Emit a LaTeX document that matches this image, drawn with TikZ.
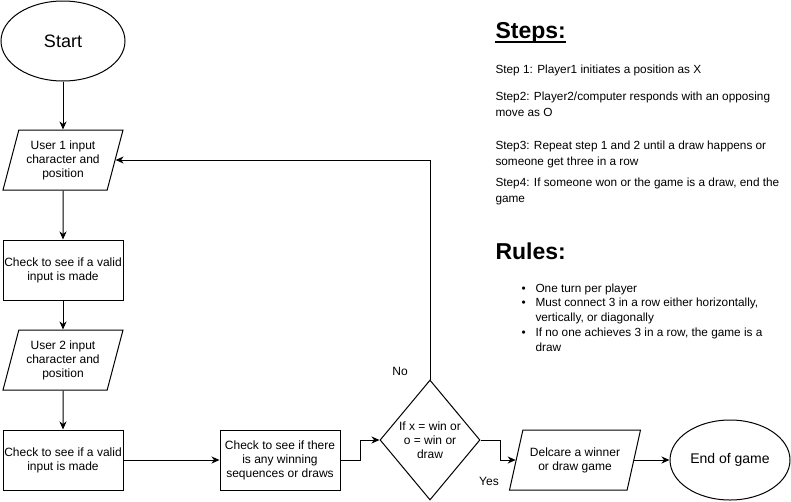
\documentclass[tikz,border=0pt]{standalone}
\usepackage{fontspec}
\setmainfont{Liberation Sans}
\usetikzlibrary{shapes.geometric, positioning, arrows.meta}

\tikzset{
  oval/.style={draw, ellipse, inner sep=0pt},
  iobox/.style={draw, trapezium, trapezium left angle=68, trapezium right angle=112,
    trapezium stretches body, minimum width=120, minimum height=60, inner sep=0pt, align=center},
  procbox/.style={draw, rectangle, minimum width=120, minimum height=60, inner sep=0pt, align=center},
  choice/.style={draw, diamond, minimum width=100, minimum height=120, inner sep=0pt, align=center},
  notes/.style={anchor=base west, inner sep=0pt, align=left, font=\fontsize{11.8}{15.5}\selectfont},
  heading/.style={anchor=base west, inner sep=0pt, font=\bfseries\fontsize{23}{26}\selectfont}
}

\begin{document}
\begin{tikzpicture}[x=1pt, y=-1pt, >={Stealth[length=8pt, width=7pt, inset=2.5pt]}, line width=1pt, font=\fontsize{12}{14}\selectfont]
\useasboundingbox (0,0) rectangle (791,501);

% flow chart
\node[oval, minimum width=124, minimum height=80, font=\fontsize{18}{22}\selectfont] (start) at (63,41) {Start};
\node[iobox] (in1) at (63,160) {User 1 input\\character and\\position};
\node[procbox] (chk1) at (63,270) {Check to see if a valid\\input is made};
\node[iobox] (in2) at (63,360) {User 2 input\\character and\\position};
\node[procbox] (chk2) at (63,460) {Check to see if a valid\\input is made};
\node[procbox] (seq) at (280,460) {Check to see if there\\is any winning\\sequences or draws};
\node[choice] (win) at (430,440) {If x = win or\\o = win or\\draw};
\node[iobox, trapezium left angle=62, trapezium right angle=118, minimum width=131, inner xsep=-30pt] (decl) at (575,460) {Delcare a winner\\or draw game};
\node[oval, minimum width=120, minimum height=80, font=\fontsize{14}{17}\selectfont] (stop) at (730,460) {End of game};

\draw[->] (start) -- (in1);
\draw[->] (in1) -- (chk1);
\draw[->] (chk1) -- (in2);
\draw[->] (in2) -- (chk2);
\draw[->] (chk2) -- (seq);
\draw[->] (seq.east) -- ++(20,0) |- (win.west);
\draw[->] (win.north) |- (in1.east);
\draw[->] (win.east) -- ++(20,0) |- (decl.west);
\draw[->] (decl) -- (stop);
\node (no) at (400,371) {No};
\node (yes) at (489,481) {Yes};

% text at the right
\node[heading] (stepshead) at (495,38) {Steps:};
\draw[line width=2.6pt] ([yshift=-3.8pt]stepshead.base west) -- ([yshift=-3.8pt]stepshead.base east);
\node[notes] (s1) at (495,73) {Step 1: Player1 initiates a position as X};
\node[notes] (s2) at (495,116) {Step2: Player2/computer responds with an opposing\\move as O};
\node[notes] (s3) at (495,165) {Step3: Repeat step 1 and 2 until a draw happens or\\someone get three in a row};
\node[notes] (s4) at (495,202) {Step4: If someone won or the game is a draw, end the\\game};

\node[heading] (ruleshead) at (495,259) {Rules:};
\node[notes] (b1) at (521,292) {\textbullet};
\node[notes] (r1) at (535,292) {One turn per player};
\node[notes] (b2) at (521,306) {\textbullet};
\node[notes, font=\fontsize{11.8}{15}\selectfont] (r2) at (535,321) {Must connect 3 in a row either horizontally,\\vertically, or diagonally};
\node[notes] (b3) at (521,336) {\textbullet};
\node[notes, font=\fontsize{11.8}{15}\selectfont] (r3) at (535,351) {If no one achieves 3 in a row, the game is a\\draw};
\end{tikzpicture}
\end{document}
